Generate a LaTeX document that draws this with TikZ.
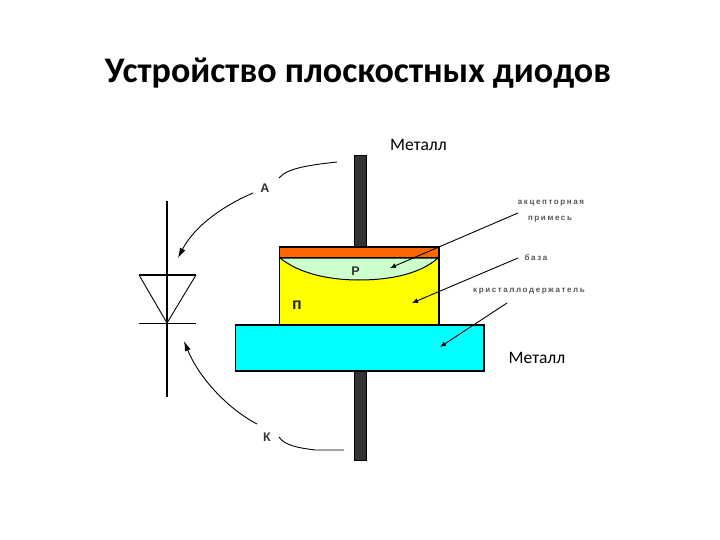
\documentclass[tikz,border=0pt]{standalone}
\usepackage{fontspec}
\setmainfont{Carlito}
\newfontfamily\smallfont[LetterSpace=20]{Liberation Sans}
\newfontfamily\plainsans{Liberation Sans}
\usetikzlibrary{arrows.meta}
\definecolor{leadgrey}{HTML}{333333}
\definecolor{orangeplate}{HTML}{FF6600}
\definecolor{pgreen}{HTML}{CCFFCC}
\definecolor{ngold}{HTML}{FFFF00}
\definecolor{holder}{HTML}{00FFFF}
\definecolor{tinygrey}{HTML}{555555}
\tikzset{
  x=1pt,y=-1pt,
  block/.style={draw=black,line width=1.1pt},
  leadwire/.style={fill=leadgrey,draw=black,line width=0.3pt},
  symbolline/.style={line width=1.2pt},
  curvearrow/.style={line width=0.9pt,-{Latex[length=10pt,width=6pt]}},
  curvetail/.style={line width=0.9pt},
  pointer/.style={line width=0.9pt,-{Latex[length=6pt,width=5pt]}},
  tiny/.style={font=\smallfont\fontsize{8}{9}\selectfont\bfseries,text=tinygrey,inner sep=0pt},
  letter/.style={font=\plainsans\fontsize{12.5}{14}\selectfont\bfseries,text=black!80,inner sep=0pt},
  bigletter/.style={font=\plainsans\fontsize{16}{18}\selectfont\bfseries,text=black!85,inner sep=0pt},
  metal/.style={font=\fontsize{17.5}{20}\selectfont,inner sep=0pt},
}
\begin{document}
\begin{tikzpicture}
\useasboundingbox (0,0) rectangle (720,540);
\node[font=\fontsize{36}{42}\selectfont\bfseries,inner sep=0pt,anchor=base] (title) at (358,83) {Устройство плоскостных диодов};
% lead
\draw[leadwire] (354.5,155.5) rectangle (366,460);
% n crystal
\draw[block,fill=ngold] (279.5,257) rectangle (439,325);
% p region
\draw[fill=pgreen,line width=1pt] (280,258) .. controls (300,274) and (330,280) .. (359,280) .. controls (390,280) and (420,274) .. (438,258) -- cycle;
\draw[block,fill=orangeplate] (279.5,247) rectangle (439,257.5);
% holder
\draw[block,fill=holder] (235.5,325) rectangle (484,371);
% diode symbol
\coordinate (dtop) at (167,201);
\coordinate (dbot) at (167,397);
\coordinate (tl) at (139,275);
\coordinate (tr) at (196,275);
\coordinate (apex) at (167,323);
\coordinate (bl) at (139,323);
\coordinate (br) at (196,323);
\draw[symbolline] (dtop) -- (dbot);
\draw[symbolline] (tl) -- (tr);
\draw[line width=0.9pt] (tl) -- (apex) -- (tr);
\draw[line width=0.7pt] (bl) -- (br);
% labels
\node[letter] (la) at (265,188) {А};
\node[letter] (lk) at (267,437) {К};
\node[letter] (lp) at (355.5,271) {Р};
\node[bigletter] (ln) at (297,305) {п};
\node[metal,anchor=base] (m1) at (418.5,151) {Металл};
\node[metal,anchor=base] (m2) at (537,363) {Металл};
\node[tiny] (t1) at (551,203) {акцепторная};
\node[tiny] (t2) at (550,219) {примесь};
\node[tiny] (t3) at (536,258) {база};
\node[tiny] (t4) at (529,291) {кристаллодержатель};
% curved connectors
\coordinate (a0) at (337,162);
\coordinate (a1) at (279,178);
\coordinate (a2) at (253,193);
\coordinate (a3) at (178,258);
\draw[curvetail] (a0) .. controls (310,165) and (287,168) .. (a1);
\draw[curvearrow] (a2) .. controls (225,205) and (195,225) .. (a3);
\coordinate (k0) at (344,450);
\coordinate (k1) at (279,437);
\coordinate (k2) at (257,424);
\coordinate (k3) at (184,341);
\draw[curvetail] (k0) -- (315,450) .. controls (300,448) and (285,446) .. (k1);
\draw[curvearrow] (k2) .. controls (230,410) and (200,380) .. (k3);
% pointers
\coordinate (p1s) at (518,213);
\coordinate (p1e) at (390,268);
\coordinate (p2s) at (518,258);
\coordinate (p2e) at (412,303);
\coordinate (p3s) at (507,303);
\coordinate (p3e) at (440,347);
\draw[pointer] (p1s) -- (p1e);
\draw[pointer] (p2s) -- (p2e);
\draw[pointer] (p3s) -- (p3e);
\end{tikzpicture}
\end{document}
